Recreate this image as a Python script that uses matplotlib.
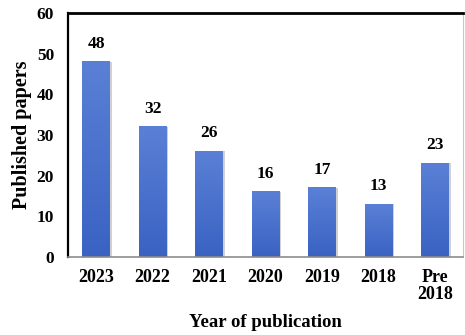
import matplotlib

matplotlib.use("Agg")
import matplotlib.pyplot as plt
import numpy as np
from matplotlib.colors import LinearSegmentedColormap
from matplotlib.patches import Rectangle

# Publication counts per year
years = ["2023", "2022", "2021", "2020", "2019", "2018", "Pre\n2018"]
papers = [48, 32, 26, 16, 17, 13, 23]

plt.rcParams["font.family"] = ["Liberation Serif", "DejaVu Serif"]
plt.rcParams["font.weight"] = "bold"

fig = plt.figure(figsize=(4.65, 3.35), dpi=100)
ax = fig.add_axes([0.146, 0.233, 0.85, 0.728])

x = np.arange(len(years))
width = 0.49
bars = ax.bar(x, papers, width=width, color="none", edgecolor="none", zorder=2)

# vertical gradient fill, lighter at the top
cmap = LinearSegmentedColormap.from_list("blue_grad", ["#3a62c2", "#5a80d6"])
grad = np.linspace(0, 1, 256).reshape(-1, 1)
for b in bars:
    x0, w, h = b.get_x(), b.get_width(), b.get_height()
    # soft shadow on the right side
    ax.add_patch(Rectangle((x0 + w, 0), 0.035, h, color="#d0d0d0", lw=0, zorder=1))
    ax.imshow(grad, cmap=cmap, origin="lower", aspect="auto",
              extent=(x0, x0 + w, 0, h), zorder=2)
    ax.text(b.get_x() + w / 2, h + 2.5, str(h), ha="center", va="bottom",
            fontsize=12.5, fontweight="bold")

ax.set_xlim(-0.5, len(years) - 0.5)
ax.set_ylim(0, 60)
ax.set_yticks(range(0, 61, 10))
ax.set_xticks(x)
ax.set_xticklabels(years, fontsize=13, fontweight="bold", linespacing=1.0)
ax.tick_params(axis="both", length=0)
ax.tick_params(axis="y", labelsize=12.5, pad=10)
ax.tick_params(axis="x", pad=9)

ax.spines["top"].set_linewidth(2.0)
ax.spines["top"].set_color("black")
ax.spines["left"].set_linewidth(1.6)
ax.spines["left"].set_color("black")
ax.spines["bottom"].set_linewidth(1.2)
ax.spines["bottom"].set_color("#8c8c8c")
ax.spines["right"].set_linewidth(0.8)
ax.spines["right"].set_color("#c8c8c8")

ax.set_xlabel("Year of publication", fontsize=13.5, fontweight="bold", va="center")
ax.set_ylabel("Published papers", fontsize=14.5, fontweight="bold", va="center")
ax.xaxis.set_label_coords(0.5, -0.27)
ax.yaxis.set_label_coords(-0.115, 0.5)

fig.savefig("out.png", dpi=100)
